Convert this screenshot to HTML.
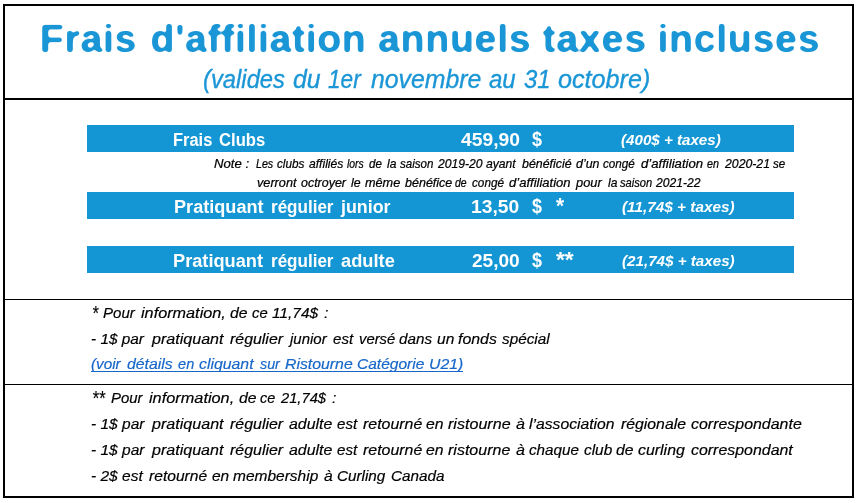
<!DOCTYPE html>
<html lang="fr"><head><meta charset="utf-8"><title>Frais d'affiliation annuels</title>
<style>
html,body{margin:0;padding:0;background:#fff;}
body{width:861px;height:503px;position:relative;overflow:hidden;font-family:"Liberation Sans",sans-serif;}
.frame{position:absolute;left:3px;top:4px;width:847px;height:490px;border:2px solid #000;}
.hl{position:absolute;left:4px;width:849px;background:#000;}
.bar{position:absolute;left:87px;width:707px;height:27px;background:#1496d4;}
.ul{position:absolute;left:91px;top:371px;width:372px;height:1px;background:#1766c9;}
.ttl{position:absolute;left:0;top:0;display:block;}
.t{position:absolute;white-space:nowrap;line-height:1;transform-origin:0 0;}
.b{font-weight:bold;} .i{font-style:italic;}
.w{color:#fff;} .s{color:#1a96d6;-webkit-text-stroke:0.35px #1a96d6;} .l{color:#1766c9;-webkit-text-stroke:0.18px #1766c9;} .d{color:#000;-webkit-text-stroke:0.18px #000;} .f11.d{-webkit-text-stroke:0.24px #000;}
.f11{font-size:12.6px;} .f14{font-size:14.3px;} .f17{font-size:17.5px;} .f26{font-size:26px;}
</style></head><body>
<div class="frame"></div>
<svg class="ttl" width="861" height="70" viewBox="0 0 861 70"><defs><filter id="rnd" x="-2%" y="-20%" width="104%" height="140%" color-interpolation-filters="sRGB"><feGaussianBlur in="SourceGraphic" stdDeviation="1.7"/><feComponentTransfer><feFuncA type="linear" slope="4" intercept="-1.35"/></feComponentTransfer></filter></defs><g filter="url(#rnd)" font-family="'Liberation Sans', sans-serif" font-size="38" font-weight="bold" fill="#1a96d6"><text transform="translate(39.85,51.60) scale(1.0373,1)" letter-spacing="0.6">Frais</text><text transform="translate(150.57,51.60) scale(1.0335,1)" letter-spacing="0.6">d'affiliation</text><text transform="translate(377.98,51.60) scale(1.0373,1)" letter-spacing="0.6">annuels</text><text transform="translate(542.40,51.60) scale(1.0421,1)" letter-spacing="0.6">taxes</text><text transform="translate(657.50,51.60) scale(1.0373,1)" letter-spacing="0.6">incluses</text></g></svg>
<div class="hl" style="top:98px;height:2px"></div>
<div class="hl" style="top:299px;height:1px"></div>
<div class="hl" style="top:384px;height:1px"></div>
<div class="bar" style="top:125px"></div>
<div class="bar" style="top:192px"></div>
<div class="bar" style="top:246px"></div>
<span class="t i s f26" style="left:202.98px;top:66.39px;transform:scaleX(0.9154)">(valides</span>
<span class="t i s f26" style="left:293.36px;top:66.39px;transform:scaleX(0.9552)">du</span>
<span class="t i s f26" style="left:328.10px;top:66.39px;transform:scaleX(0.8710)">1er</span>
<span class="t i s f26" style="left:370.75px;top:66.39px;transform:scaleX(0.9552)">novembre</span>
<span class="t i s f26" style="left:489.10px;top:66.39px;transform:scaleX(0.9241)">au</span>
<span class="t i s f26" style="left:523.50px;top:66.39px;transform:scaleX(0.9213)">31</span>
<span class="t i s f26" style="left:557.90px;top:66.39px;transform:scaleX(0.9681)">octobre)</span>
<span class="t b w f17" style="left:173.46px;top:132.09px;transform:scaleX(0.9393)">Frais</span>
<span class="t b w f17" style="left:218.82px;top:132.09px;transform:scaleX(0.9506)">Clubs</span>
<span class="t b w f17" style="left:460.50px;top:132.09px;transform:scaleX(1.1005)">459,90</span>
<span class="t b w" style="font-size:20.5px;left:532.40px;top:129.35px;transform:scaleX(0.8750)">$</span>
<span class="t b i w f14" style="left:621.30px;top:133.10px;transform:scaleX(1.0590)">(400$ + taxes)</span>
<span class="t i d f11" style="left:214.00px;top:157.53px;transform:scaleX(1.0453)">Note :</span>
<span class="t i d f11" style="left:255.93px;top:157.53px;transform:scaleX(0.8447)">Les</span>
<span class="t i d f11" style="left:277.03px;top:157.53px;transform:scaleX(0.9317)">clubs</span>
<span class="t i d f11" style="left:308.93px;top:157.53px;transform:scaleX(0.9629)">affiliés</span>
<span class="t i d f11" style="left:346.63px;top:157.53px;transform:scaleX(0.8263)">lors</span>
<span class="t i d f11" style="left:368.85px;top:157.53px;transform:scaleX(0.9139)">de</span>
<span class="t i d f11" style="left:386.70px;top:157.53px;transform:scaleX(0.9584)">la</span>
<span class="t i d f11" style="left:399.61px;top:157.53px;transform:scaleX(0.9201)">saison</span>
<span class="t i d f11" style="left:438.06px;top:157.53px;transform:scaleX(0.9637)">2019-20</span>
<span class="t i d f11" style="left:486.38px;top:157.53px;transform:scaleX(0.9657)">ayant</span>
<span class="t i d f11" style="left:521.86px;top:157.53px;transform:scaleX(0.9835)">bénéficié</span>
<span class="t i d f11" style="left:575.64px;top:157.53px;transform:scaleX(0.9835)">d’un</span>
<span class="t i d f11" style="left:602.79px;top:157.53px;transform:scaleX(0.9272)">congé</span>
<span class="t i d f11" style="left:641.00px;top:157.53px;transform:scaleX(1.0437)">d’affiliation</span>
<span class="t i d f11" style="left:707.15px;top:157.53px;transform:scaleX(0.8499)">en</span>
<span class="t i d f11" style="left:725.07px;top:157.53px;transform:scaleX(0.9737)">2020-21</span>
<span class="t i d f11" style="left:772.79px;top:157.53px;transform:scaleX(0.9184)">se</span>
<span class="t i d f11" style="left:256.57px;top:177.23px;transform:scaleX(1.0067)">verront</span>
<span class="t i d f11" style="left:301.10px;top:177.23px;transform:scaleX(0.9892)">octroyer</span>
<span class="t i d f11" style="left:350.77px;top:177.23px;transform:scaleX(0.9753)">le</span>
<span class="t i d f11" style="left:364.94px;top:177.23px;transform:scaleX(1.0067)">même</span>
<span class="t i d f11" style="left:404.90px;top:177.23px;transform:scaleX(0.9935)">bénéfice</span>
<span class="t i d f11" style="left:455.36px;top:177.23px;transform:scaleX(0.8269)">de</span>
<span class="t i d f11" style="left:471.70px;top:177.23px;transform:scaleX(0.9327)">congé</span>
<span class="t i d f11" style="left:509.00px;top:177.23px;transform:scaleX(1.0352)">d’affiliation</span>
<span class="t i d f11" style="left:576.35px;top:177.23px;transform:scaleX(1.0196)">pour</span>
<span class="t i d f11" style="left:607.76px;top:177.23px;transform:scaleX(0.9573)">la</span>
<span class="t i d f11" style="left:620.27px;top:177.23px;transform:scaleX(0.8835)">saison</span>
<span class="t i d f11" style="left:656.46px;top:177.23px;transform:scaleX(0.9637)">2021-22</span>
<span class="t b w f17" style="left:173.62px;top:199.09px;transform:scaleX(1.0349)">Pratiquant</span>
<span class="t b w f17" style="left:270.63px;top:199.09px;transform:scaleX(0.9735)">régulier</span>
<span class="t b w f17" style="left:341.02px;top:199.09px;transform:scaleX(1.0182)">junior</span>
<span class="t b w f17" style="left:471.30px;top:199.09px;transform:scaleX(1.0985)">13,50</span>
<span class="t b w" style="font-size:20.5px;left:532.40px;top:196.35px;transform:scaleX(0.8750)">$</span>
<span class="t b w" style="font-size:22px;left:556.00px;top:195.18px;transform:scaleX(0.9444)">*</span>
<span class="t b i w f14" style="left:621.50px;top:200.20px;transform:scaleX(1.0723)">(11,74$ + taxes)</span>
<span class="t b w f17" style="left:173.36px;top:252.99px;transform:scaleX(1.0408)">Pratiquant</span>
<span class="t b w f17" style="left:270.63px;top:252.99px;transform:scaleX(0.9735)">régulier</span>
<span class="t b w f17" style="left:341.46px;top:252.99px;transform:scaleX(1.0438)">adulte</span>
<span class="t b w f17" style="left:471.70px;top:252.99px;transform:scaleX(1.0894)">25,00</span>
<span class="t b w" style="font-size:20.5px;left:532.40px;top:250.25px;transform:scaleX(0.8750)">$</span>
<span class="t b w" style="font-size:22px;left:556.00px;top:249.08px;transform:scaleX(1.0364)">**</span>
<span class="t b i w f14" style="left:621.50px;top:254.10px;transform:scaleX(1.0616)">(21,74$ + taxes)</span>
<span class="t i d f14" style="left:103.00px;top:305.50px;transform:scaleX(1.0529)">Pour</span>
<span class="t i d f14" style="left:141.20px;top:305.50px;transform:scaleX(1.1353)">information,</span>
<span class="t i d f14" style="left:230.45px;top:305.50px;transform:scaleX(1.1034)">de</span>
<span class="t i d f14" style="left:251.55px;top:305.50px;transform:scaleX(1.0364)">ce</span>
<span class="t i d f14" style="left:272.00px;top:305.50px;transform:scaleX(1.0797)">11,74$</span>
<span class="t i d f14" style="left:324.03px;top:305.50px;transform:scaleX(1.1091)">:</span>
<span class="t i d f14" style="left:91.10px;top:331.50px;transform:scaleX(1.0750)">- 1$ par</span>
<span class="t i d f14" style="left:151.72px;top:331.50px;transform:scaleX(1.1247)">pratiquant</span>
<span class="t i d f14" style="left:230.41px;top:331.50px;transform:scaleX(1.1118)">régulier</span>
<span class="t i d f14" style="left:289.74px;top:331.50px;transform:scaleX(1.0498)">junior</span>
<span class="t i d f14" style="left:332.85px;top:331.50px;transform:scaleX(1.0547)">est</span>
<span class="t i d f14" style="left:358.70px;top:331.50px;transform:scaleX(1.0369)">versé</span>
<span class="t i d f14" style="left:399.40px;top:331.50px;transform:scaleX(1.0663)">dans</span>
<span class="t i d f14" style="left:437.08px;top:331.50px;transform:scaleX(1.0871)">un</span>
<span class="t i d f14" style="left:458.04px;top:331.50px;transform:scaleX(1.1118)">fonds</span>
<span class="t i d f14" style="left:502.00px;top:331.50px;transform:scaleX(1.0700)">spécial</span>
<span class="t i l f14" style="left:91.20px;top:357.20px;transform:scaleX(1.0676)">(voir</span>
<span class="t i l f14" style="left:127.47px;top:357.20px;transform:scaleX(1.1065)">détails</span>
<span class="t i l f14" style="left:178.05px;top:357.20px;transform:scaleX(1.0219)">en</span>
<span class="t i l f14" style="left:199.22px;top:357.20px;transform:scaleX(1.1065)">cliquant</span>
<span class="t i l f14" style="left:259.79px;top:357.20px;transform:scaleX(1.0010)">sur</span>
<span class="t i l f14" style="left:285.32px;top:357.20px;transform:scaleX(1.1065)">Ristourne</span>
<span class="t i l f14" style="left:357.40px;top:357.20px;transform:scaleX(1.0864)">Catégorie</span>
<span class="t i l f14" style="left:429.42px;top:357.20px;transform:scaleX(1.1065)">U21)</span>
<span class="t i d" style="font-size:21px;left:92.04px;top:301.72px;transform:scaleX(0.7625)">*</span>
<span class="t i d" style="font-size:21px;left:92.00px;top:386.72px;transform:scaleX(0.7977)">**</span>
<span class="t i d f14" style="left:111.20px;top:390.50px;transform:scaleX(1.0465)">Pour</span>
<span class="t i d f14" style="left:149.30px;top:390.50px;transform:scaleX(1.1407)">information,</span>
<span class="t i d f14" style="left:238.99px;top:390.50px;transform:scaleX(1.1052)">de</span>
<span class="t i d f14" style="left:260.23px;top:390.50px;transform:scaleX(1.0120)">ce</span>
<span class="t i d f14" style="left:280.63px;top:390.50px;transform:scaleX(1.0289)">21,74$</span>
<span class="t i d f14" style="left:332.34px;top:390.50px;transform:scaleX(1.1052)">:</span>
<span class="t i d f14" style="left:91.10px;top:416.70px;transform:scaleX(1.0849)">- 1$ par</span>
<span class="t i d f14" style="left:151.96px;top:416.70px;transform:scaleX(1.1252)">pratiquant</span>
<span class="t i d f14" style="left:230.40px;top:416.70px;transform:scaleX(1.1141)">régulier</span>
<span class="t i d f14" style="left:289.40px;top:416.70px;transform:scaleX(1.1128)">adulte</span>
<span class="t i d f14" style="left:337.20px;top:416.70px;transform:scaleX(1.0542)">est</span>
<span class="t i d f14" style="left:362.50px;top:416.70px;transform:scaleX(1.1145)">retourné</span>
<span class="t i d f14" style="left:426.19px;top:416.70px;transform:scaleX(1.1046)">en</span>
<span class="t i d f14" style="left:448.23px;top:416.70px;transform:scaleX(1.1252)">ristourne</span>
<span class="t i d f14" style="left:516.00px;top:416.70px;transform:scaleX(1.1252)">à</span>
<span class="t i d f14" style="left:529.40px;top:416.70px;transform:scaleX(1.0985)">l’association</span>
<span class="t i d f14" style="left:620.90px;top:416.70px;transform:scaleX(1.1041)">régionale</span>
<span class="t i d f14" style="left:691.20px;top:416.70px;transform:scaleX(1.1147)">correspondante</span>
<span class="t i d f14" style="left:91.10px;top:442.80px;transform:scaleX(1.0849)">- 1$ par</span>
<span class="t i d f14" style="left:152.02px;top:442.80px;transform:scaleX(1.1232)">pratiquant</span>
<span class="t i d f14" style="left:230.40px;top:442.80px;transform:scaleX(1.1141)">régulier</span>
<span class="t i d f14" style="left:289.40px;top:442.80px;transform:scaleX(1.1128)">adulte</span>
<span class="t i d f14" style="left:337.20px;top:442.80px;transform:scaleX(1.0542)">est</span>
<span class="t i d f14" style="left:362.50px;top:442.80px;transform:scaleX(1.1145)">retourné</span>
<span class="t i d f14" style="left:426.19px;top:442.80px;transform:scaleX(1.1046)">en</span>
<span class="t i d f14" style="left:448.38px;top:442.80px;transform:scaleX(1.1197)">ristourne</span>
<span class="t i d f14" style="left:516.02px;top:442.80px;transform:scaleX(1.1197)">à</span>
<span class="t i d f14" style="left:529.40px;top:442.80px;transform:scaleX(1.0649)">chaque</span>
<span class="t i d f14" style="left:583.80px;top:442.80px;transform:scaleX(1.0770)">club</span>
<span class="t i d f14" style="left:616.22px;top:442.80px;transform:scaleX(1.1009)">de</span>
<span class="t i d f14" style="left:637.80px;top:442.80px;transform:scaleX(1.1123)">curling</span>
<span class="t i d f14" style="left:690.50px;top:442.80px;transform:scaleX(1.1133)">correspondant</span>
<span class="t i d f14" style="left:91.10px;top:468.90px;transform:scaleX(1.0840)">- 2$ est</span>
<span class="t i d f14" style="left:148.86px;top:468.90px;transform:scaleX(1.0917)">retourné</span>
<span class="t i d f14" style="left:211.75px;top:468.90px;transform:scaleX(1.0846)">en</span>
<span class="t i d f14" style="left:232.90px;top:468.90px;transform:scaleX(1.0837)">membership</span>
<span class="t i d f14" style="left:323.78px;top:468.90px;transform:scaleX(1.0917)">à</span>
<span class="t i d f14" style="left:336.90px;top:468.90px;transform:scaleX(1.0675)">Curling</span>
<span class="t i d f14" style="left:390.60px;top:468.90px;transform:scaleX(1.0692)">Canada</span>
<div class="ul"></div>
</body></html>
